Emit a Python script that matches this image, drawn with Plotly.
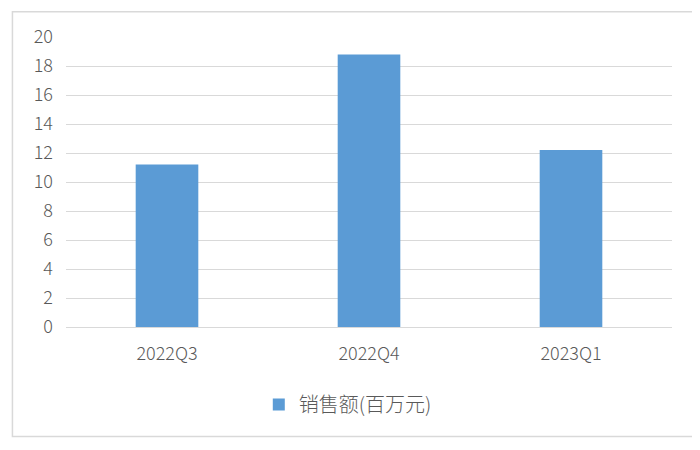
import plotly.graph_objects as go

quarters = ["2022Q3", "2022Q4", "2023Q1"]
sales = [11.2, 18.8, 12.2]
series_name = "销售额(百万元)"
y_ticks = list(range(0, 21, 2))

fig = go.Figure()
fig.add_bar(x=quarters, y=sales, name=series_name, marker_color="#5B9BD5",
            marker_line_width=0, showlegend=True)

# 外枠
fig.add_shape(type="rect", xref="paper", yref="paper",
              x0=-0.0884, x1=1.0363, y0=-0.3777, y1=1.0874,
              line=dict(color="#D9D9D9", width=1.5))

# ページ余白8pxぶん小さくする
fig.update_layout(
    width=692, height=442,
    template="none",
    paper_bgcolor="white", plot_bgcolor="white",
    margin=dict(l=58, r=28, t=29, b=123, autoexpand=False),
    font=dict(family="Noto Sans CJK SC, Noto Sans, sans-serif", color="#595959",
              size=18, weight=300),
    bargap=0.69,
    showlegend=True,
    legend=dict(orientation="h", x=0.465, xanchor="center", y=-0.267, yanchor="middle",
                font=dict(size=20, weight=300), bgcolor="rgba(0,0,0,0)"),
)
fig.update_xaxes(showgrid=False, showline=False, zeroline=False, ticks="",
                 ticklabelstandoff=14, automargin=False)
fig.update_yaxes(range=[0, 20], tickvals=y_ticks, showgrid=True, gridcolor="#D9D9D9",
                 gridwidth=1, zeroline=True, zerolinecolor="#D9D9D9", zerolinewidth=1,
                 showline=False, ticks="", ticklabelstandoff=12, automargin=False)

fig.write_html("out.html")
